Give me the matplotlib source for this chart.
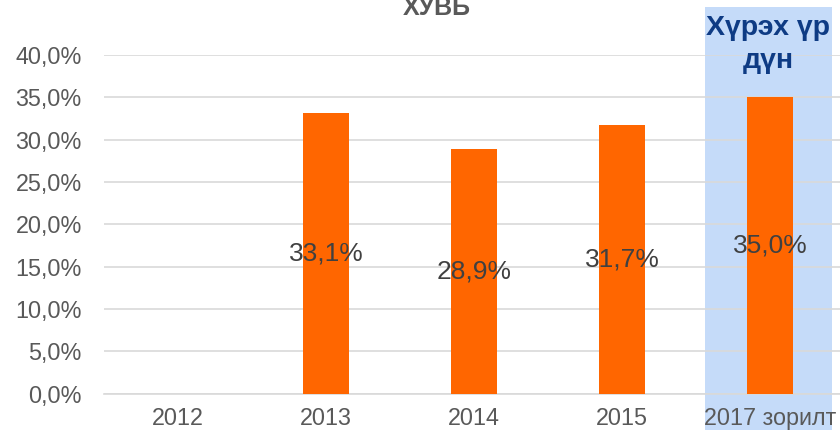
import matplotlib
matplotlib.use("Agg")
import matplotlib.pyplot as plt
from matplotlib.patches import Rectangle

categories = ["2012", "2013", "2014", "2015", "2017 зорилт"]
values = [None, 33.1, 28.9, 31.7, 35.0]
value_labels = ["", "33,1%", "28,9%", "31,7%", "35,0%"]
yticks = [0, 5, 10, 15, 20, 25, 30, 35, 40]
ytick_labels = ["0,0%", "5,0%", "10,0%", "15,0%", "20,0%", "25,0%", "30,0%", "35,0%", "40,0%"]
title = "ХУВЬ"
highlight_text = ["Хүрэх үр", "дүн"]

plt.rcParams['font.family'] = ['Liberation Sans', 'DejaVu Sans']

W, H = 840, 430
fig = plt.figure(figsize=(W / 100, H / 100), dpi=100)
fig.patch.set_facecolor("white")

# axes: left at 104 px, 0% at 393.5 px, 40% at 55 px, category width 148 px
left = 104 / W
right = (104 + 148 * 5) / W
bottom = (H - 393.5) / H
top = (H - 55) / H
ax = fig.add_axes([left, bottom, right - left, top - bottom])
ax.set_facecolor("none")

# highlight rectangle (figure coordinates)
rect = Rectangle((705 / W, -0.05), (832 - 705) / W, (H - 7) / H + 0.05,
                 transform=fig.transFigure, facecolor="#C5DBF9", edgecolor="none", zorder=-5)
fig.patches.append(rect)

x = list(range(len(categories)))
bar_vals = [v if v is not None else 0 for v in values]
ax.bar(x, bar_vals, width=0.31, color="#FF6600", zorder=3)

for i, (v, lab) in enumerate(zip(values, value_labels)):
    if v is not None and lab:
        ax.text(i, v / 2, lab, ha="center", va="center", fontsize=19,
                color="#404040", zorder=4)

ax.set_xlim(-0.5, len(categories) - 0.5)
ax.set_ylim(0, 40)
ax.set_yticks(yticks)
ax.set_yticklabels(ytick_labels)
ax.set_xticks(x)
ax.set_xticklabels(categories)
ax.yaxis.grid(True, color="#D9D9D9", linewidth=1.2, zorder=0)
ax.set_axisbelow(True)
for s in ["top", "right", "left"]:
    ax.spines[s].set_visible(False)
ax.spines["bottom"].set_color("#D9D9D9")
ax.spines["bottom"].set_linewidth(1.2)
ax.tick_params(axis="both", length=0, labelsize=16.8, colors="#595959")
ax.tick_params(axis="y", pad=16)
ax.tick_params(axis="x", pad=10)

fig.text(437 / W, 1 - 15 / H, title, ha="center", va="baseline",
         fontsize=18, color="#595959", fontweight="bold")
fig.text(768.5 / W, 1 - 35 / H, highlight_text[0], ha="center", va="baseline",
         fontsize=20.5, color="#0E3B84", fontweight="bold")
fig.text(768.5 / W, 1 - 68 / H, highlight_text[1], ha="center", va="baseline",
         fontsize=20.5, color="#0E3B84", fontweight="bold")

fig.savefig("out.png", dpi=100, facecolor="white")
